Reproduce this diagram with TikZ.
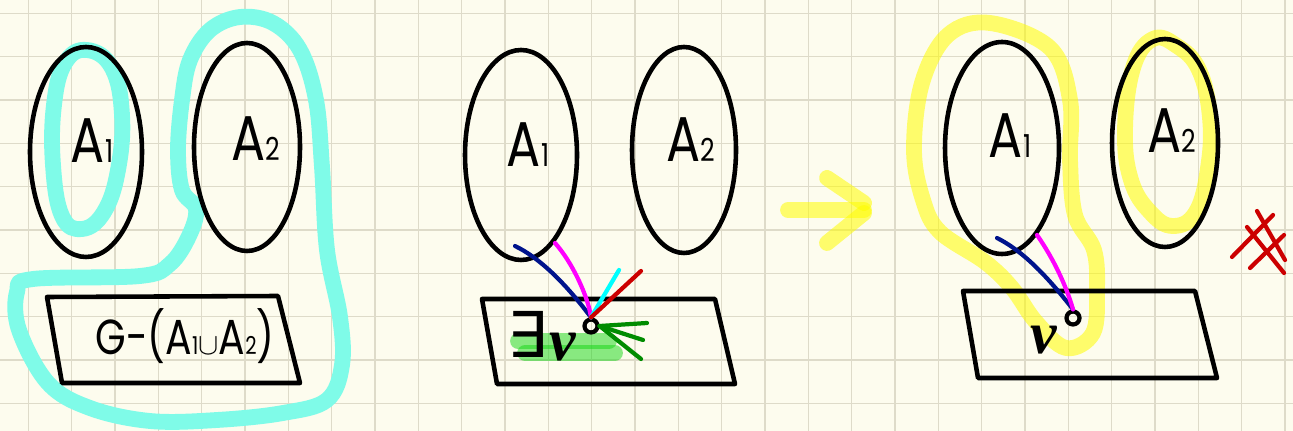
\documentclass[tikz,border=0pt]{standalone}
\usepackage{fontspec}
\newfontfamily\hand[FakeStretch=0.8]{Poppins}
\newfontfamily\symbfont{DejaVu Sans}
\newfontfamily\vfont{Liberation Serif}
\usepackage{tikz}
\definecolor{paper}{RGB}{253,252,238}
\definecolor{gridc}{RGB}{222,219,201}
\definecolor{markcyan}{RGB}{127,251,232}
\definecolor{markyellow}{RGB}{255,252,0}
\definecolor{markgreen}{RGB}{20,215,20}
\definecolor{navy}{RGB}{0,20,140}
\definecolor{pink}{RGB}{255,0,255}
\definecolor{aqua}{RGB}{0,255,255}
\definecolor{darkred}{RGB}{204,0,0}
\definecolor{dgreen}{RGB}{0,140,0}

\newcommand{\setA}[1]{A{\fontsize{18}{18}\selectfont #1}}

\begin{document}
\begin{tikzpicture}[x=0.02cm, y=-0.02cm, line cap=round, line join=round,
    ink/.style={draw=black, line width=2.6pt},
    stroke/.style={line width=2.4pt},
    cyanmark/.style={draw=markcyan, line width=9pt},
    yellowmark/.style={draw=markyellow, draw opacity=0.55, line width=9pt},
    greenmark/.style={draw=markgreen, draw opacity=0.5, line width=9pt},
    setlabel/.style={font=\hand\fontsize{36}{36}\selectfont, anchor=base, inner sep=0pt},
    vlabel/.style={font=\vfont\bfseries\itshape\fontsize{34}{34}\selectfont, inner sep=0pt},
    vertex/.style={circle, draw, line width=2.4pt, minimum size=0.26cm, inner sep=0pt}]
  % Paper
  \useasboundingbox (0,0) rectangle (1293,431);
  \fill[paper] (0,0) rectangle (1293,431);
  \foreach \i in {0,...,29}
    \draw[gridc, line width=0.8pt] ({28.3+43.33*\i},0) -- ++(0,431);
  \foreach \j in {0,...,9}
    \draw[gridc, line width=0.8pt] (0,{13.3+43.33*\j}) -- ++(1293,0);

  % Highlights, left
  \draw[cyanmark] plot[smooth cycle, tension=0.7] coordinates {
    (87,50) (112,68) (122,115) (118,170) (104,212) (82,229) (62,216) (53,165) (54,105) (65,63)};
  \draw[cyanmark] plot[smooth cycle, tension=0.6] coordinates {
    (182,190) (196,209) (189,236) (170,264) (140,276) (33,279) (17,292) (19,330)
    (48,383) (90,408) (150,421) (217,420) (283,413) (327,400) (342,365) (340,317)
    (327,250) (322,167) (316,100) (300,50) (273,23) (240,17) (210,30) (190,60)
    (182,100) (178,150)};

  % Highlights, middle and right
  \draw[greenmark] (518,341) -- (609,341);
  \draw[greenmark] (525,353) -- (615,353);
  \draw[yellowmark] (788,210) -- (864,210);
  \draw[yellowmark] (827,178) -- (864,203);
  \draw[yellowmark] (864,213) -- (827,243);
  \draw[yellowmark] plot[smooth cycle, tension=0.6] coordinates {
    (1066,348) (1093,333) (1097,290) (1094,250) (1075,215) (1070,160) (1070,100)
    (1050,48) (990,23) (948,35) (922,83) (914,150) (923,200) (940,232) (985,262)
    (1012,288) (1036,322)};
  \draw[yellowmark] plot[smooth cycle, tension=0.7] coordinates {
    (1153,39) (1133,68) (1125,130) (1131,180) (1150,212) (1173,226) (1196,212)
    (1208,168) (1210,118) (1199,70) (1177,46)};

  % Left panel
  \draw[ink] (86,152) ellipse [x radius=56, y radius=105];
  \draw[ink] (247,147) ellipse [x radius=53, y radius=104];
  \draw[ink] (47,297) -- (278,296) -- (300,383) -- (62,383) -- cycle;
  \node[setlabel] (la1) at (92,163) {\setA{1}};
  \node[setlabel] (la2) at (256,161) {\setA{2}};
  \node[font=\hand\fontsize{28}{28}\selectfont, anchor=base, inner sep=0pt] (rest)
    at (185,355) {G-(A{\fontsize{14}{14}\selectfont 1}{\fontsize{18}{18}\selectfont$\cup$}A{\fontsize{14}{14}\selectfont 2})};

  % Middle panel
  \draw[ink] (521,155) ellipse [x radius=56, y radius=105];
  \draw[ink] (684,150) ellipse [x radius=52, y radius=103];
  \draw[ink] (482,299) -- (715,299) -- (735,384) -- (497,384) -- cycle;
  \node[setlabel] (ma1) at (528,167) {\setA{1}};
  \node[setlabel] (ma2) at (691,162) {\setA{2}};
  \node[font=\symbfont\fontsize{36}{36}\selectfont, inner sep=0pt] (ex) at (527,334) {∃};
  \node[vlabel] (mv) at (563,347) {v};
  \node[vertex] (v) at (591,326) {};
  \coordinate (vn) at (515,246);
  \coordinate (vm) at (555,243);
  \coordinate (vc) at (619,270);
  \coordinate (vr) at (641,271);
  \coordinate (vg1) at (647,323);
  \coordinate (vg2) at (643,340);
  \coordinate (vg3) at (641,359);
  \draw[stroke, navy] (v.north) .. controls (566,284) and (540,258) .. (vn);
  \draw[stroke, pink] (v.north) .. controls (588,296) and (572,262) .. (vm);
  \draw[stroke, aqua] (v.north) -- (vc);
  \draw[stroke, darkred] (v.north) -- (vr);
  \draw[stroke, dgreen] (v.east) -- (vg1);
  \draw[stroke, dgreen] (v.east) -- (vg2);
  \draw[stroke, dgreen] (v.east) -- (vg3);

  % Right panel
  \draw[ink] (1002,148) ellipse [x radius=57, y radius=106];
  \draw[ink] (1165,143) ellipse [x radius=53, y radius=104];
  \draw[ink] (963,291) -- (1195,291) -- (1217,378) -- (978,378) -- cycle;
  \node[setlabel] (ra1) at (1010,158) {\setA{1}};
  \node[setlabel] (ra2) at (1172,153) {\setA{2}};
  \node[vlabel] (rv) at (1044,340) {v};
  \node[vertex] (w) at (1073,318) {};
  \coordinate (wn) at (997,238);
  \coordinate (wm) at (1037,235);
  \draw[stroke, navy] (w.north) .. controls (1050,280) and (1025,252) .. (wn);
  \draw[stroke, pink] (w.north) .. controls (1066,285) and (1053,258) .. (wm);

  % Cross-out mark
  \draw[stroke, darkred] (1257,211) -- (1285,260);
  \draw[stroke, darkred] (1247,227) -- (1284,273);
  \draw[stroke, darkred] (1273,215) -- (1232,257);
  \draw[stroke, darkred] (1284,235) -- (1250,268);
\end{tikzpicture}
\end{document}
